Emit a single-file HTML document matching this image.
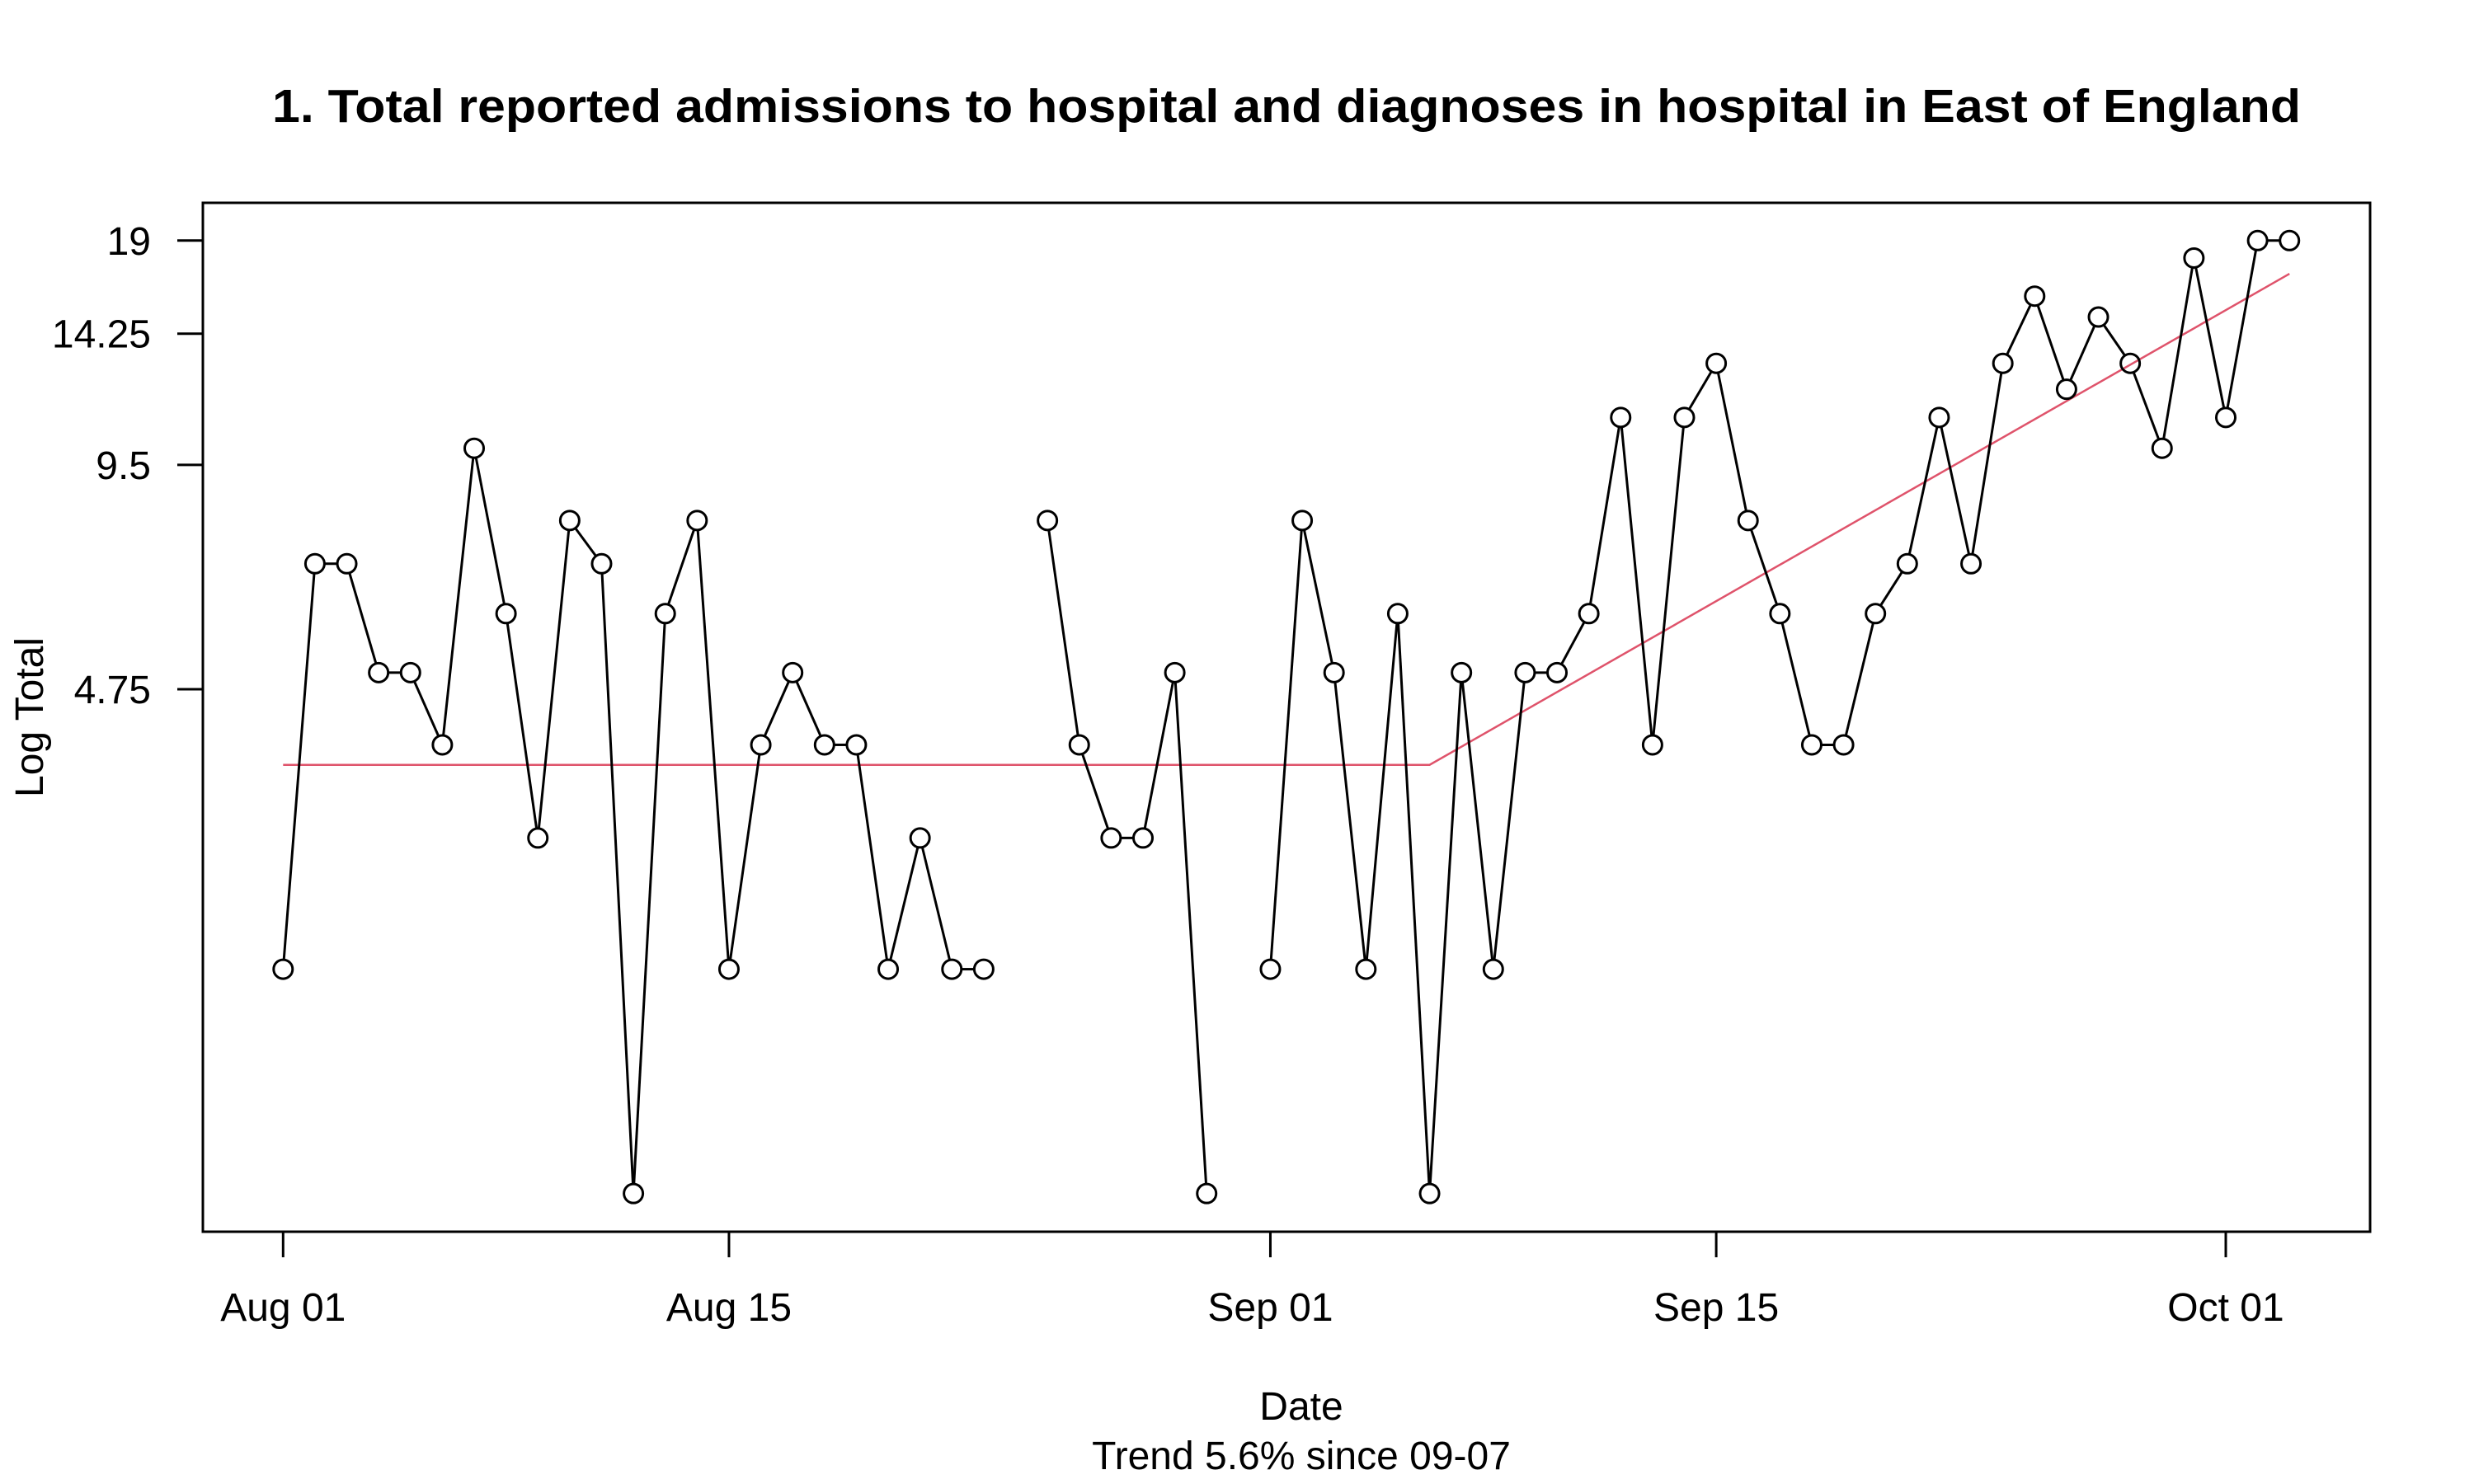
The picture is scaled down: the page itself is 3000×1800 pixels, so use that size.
<!DOCTYPE html>
<html><head><meta charset="utf-8"><style>
html,body{margin:0;padding:0;background:#fff;}
svg{display:block;font-family:"Liberation Sans",Arial,sans-serif;}
</style></head><body>
<svg id="chart" width="3000" height="1800" viewBox="0 0 3000 1800" xmlns="http://www.w3.org/2000/svg">
<rect width="3000" height="1800" fill="#fff"/>
<text x="1560" y="148" text-anchor="middle" font-size="57" font-weight="bold" textLength="2460" lengthAdjust="spacingAndGlyphs">1. Total reported admissions to hospital and diagnoses in hospital in East of England</text>
<rect x="246" y="246" width="2628" height="1248" fill="none" stroke="#000" stroke-width="3"/>
<g id="yaxis"></g>
<g id="xaxis"></g>
<g id="trend"></g>
<g id="series"></g>
<text transform="translate(52,870) rotate(-90)" text-anchor="middle" font-size="48">Log Total</text>
<text x="1578" y="1722" text-anchor="middle" font-size="48">Date</text>
<text x="1578" y="1782" text-anchor="middle" font-size="48">Trend 5.6% since 09-07</text>
</svg>
<script>
// day offsets from Aug 01; null = missing
const values = [2,7,7,5,5,4,10,6,3,8,7,1,6,8,2,4,5,4,4,2,3,2,2,null,8,4,3,3,5,1,null,2,8,5,2,6,1,5,2,5,5,6,11,4,11,13,8,6,4,4,6,7,11,7,13,16,12,15,13,10,18,11,19,19];
const yTicks = [4.75, 9.5, 14.25, 19];
const yTickLabels = ["4.75", "9.5", "14.25", "19"];
const xTickDays = [0, 14, 31, 45, 61];
const xTickLabels = ["Aug 01", "Aug 15", "Sep 01", "Sep 15", "Oct 01"];
const trendLevel = [3.76];
const trendBreakDay = [36];
const trendGrowth = [0.0562];

const NS = "http://www.w3.org/2000/svg";
const X0 = 343.3, DX = (2699 - 343.3) / 61;
const LN_TOP = 3.061, LN_BOT = -0.118, PT = 246, PB = 1494;
function xs(d){ return X0 + d * DX; }
function ys(v){ return PT + (LN_TOP - Math.log(v)) / (LN_TOP - LN_BOT) * (PB - PT); }
function mk(tag, attrs, parent){ const e = document.createElementNS(NS, tag); for (const k in attrs) e.setAttribute(k, attrs[k]); parent.appendChild(e); return e; }

const ya = document.getElementById('yaxis');
yTicks.forEach((v, i) => {
  const t = mk('line', {x1: 215, x2: 246, y1: ys(v), y2: ys(v), stroke: '#000', 'stroke-width': 3}, ya);
  
  
  const l = mk('text', {x: 183, y: ys(v) + 17, 'text-anchor': 'end', 'font-size': 48}, ya);
  
  
  l.textContent = yTickLabels[i];
});
const xa = document.getElementById('xaxis');
xTickDays.forEach((d, i) => {
  const t = mk('line', {x1: xs(d), x2: xs(d), y1: 1494, y2: 1525, stroke: '#000', 'stroke-width': 3}, xa);
  
  
  const l = mk('text', {x: xs(d), y: 1602, 'text-anchor': 'middle', 'font-size': 48}, xa);
  
  
  l.textContent = xTickLabels[i];
});

const tr = document.getElementById('trend');
const lastDay = values.length - 1;
const tv = d => d <= trendBreakDay[0] ? trendLevel[0] : trendLevel[0] * Math.exp(trendGrowth[0] * (d - trendBreakDay[0]));
const tp = [0, trendBreakDay[0], lastDay].map(d => xs(d) + ',' + ys(tv(d))).join(' ');
const tl = mk('polyline', {points: tp, fill: 'none', stroke: '#DF536B', 'stroke-width': 2.5}, tr);



const sg = document.getElementById('series');
const R = 11.5;
for (let i = 0; i < values.length - 1; i++) {
  const a = values[i], b = values[i + 1];
  if (a == null || b == null) continue;
  const x1 = xs(i), y1 = ys(a), x2 = xs(i + 1), y2 = ys(b);
  const dx = x2 - x1, dy = y2 - y1, L = Math.hypot(dx, dy);
  if (L <= 2 * R) continue;
  const s = mk('line', {x1: x1 + dx / L * R, y1: y1 + dy / L * R, x2: x2 - dx / L * R, y2: y2 - dy / L * R, stroke: '#000', 'stroke-width': 3}, sg);
  
  
}
values.forEach((v, i) => {
  if (v == null) return;
  const c = mk('circle', {cx: xs(i), cy: ys(v), r: R, fill: 'none', stroke: '#000', 'stroke-width': 3}, sg);
  
  
});
</script>
</body></html>
